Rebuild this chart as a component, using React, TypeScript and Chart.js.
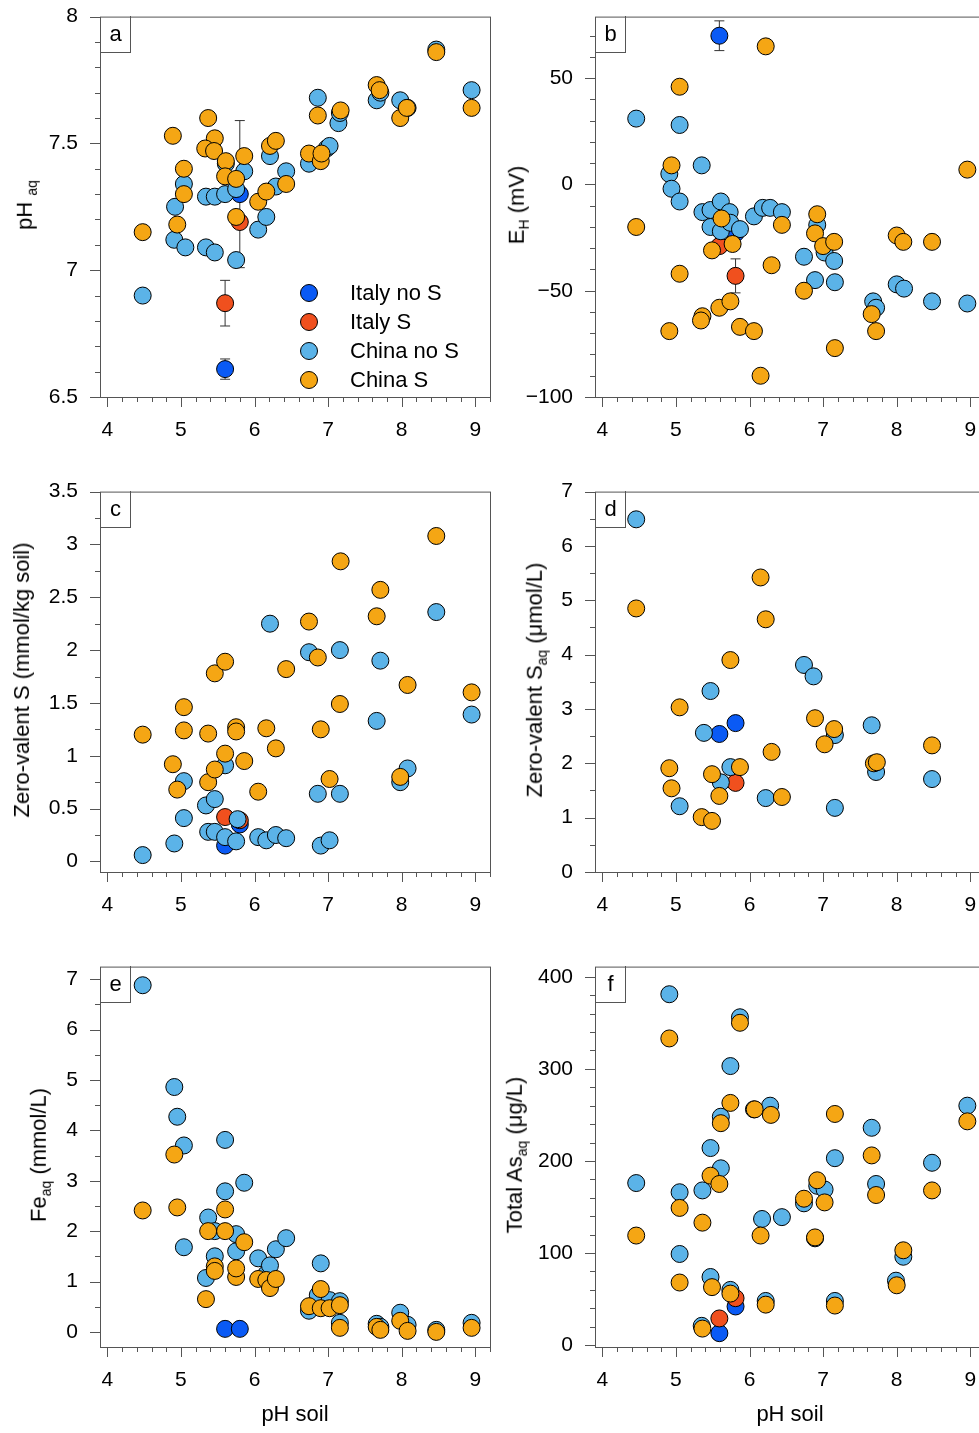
import React, { useEffect, useRef } from 'react';
import { Chart, registerables } from 'chart.js';

Chart.register(...registerables);

// ---- data (x = pH soil) ----
const aChinaSx = [4.48,4.89,4.95,5.04,5.04,5.37,5.46,5.33,5.45,5.61,5.60,5.75,5.75,5.86,6.05,6.16,6.21,6.29,6.43,6.74,6.90,6.91,6.86,7.17,7.66,7.70,7.98,8.07,8.47,8.95];
const aChinaSy = [7.15,7.53,7.18,7.40,7.30,7.60,7.52,7.48,7.47,7.43,7.37,7.36,7.21,7.45,7.27,7.31,7.49,7.51,7.34,7.46,7.43,7.46,7.61,7.63,7.73,7.71,7.60,7.64,7.86,7.64];
const aChinaNx = [4.48,4.91,4.92,5.06,5.04,5.34,5.46,5.34,5.46,5.60,5.61,5.75,5.75,5.86,6.05,6.16,6.21,6.29,6.43,6.74,6.86,6.98,7.02,7.14,7.16,7.66,7.71,7.98,8.08,8.47,8.95];
const aChinaNy = [6.90,7.12,7.25,7.09,7.34,7.29,7.29,7.09,7.07,7.30,7.42,7.32,7.04,7.39,7.16,7.21,7.45,7.33,7.39,7.42,7.68,7.48,7.49,7.58,7.62,7.67,7.70,7.67,7.64,7.87,7.71];
const aItalyNx = [5.60,5.80];
const aItalyNy = [6.61,7.30];
const aItalyNe = [0.04,0.29];
const aItalySx = [5.60,5.80];
const aItalySy = [6.87,7.19];
const aItalySe = [0.09,0];

const bChinaSx = [4.46,4.94,5.05,5.05,4.91,5.36,5.34,5.49,5.59,5.62,5.74,5.77,5.87,6.06,6.15,6.22,6.30,6.44,6.74,6.89,6.92,7.00,7.15,7.16,7.66,7.72,8.00,8.09,8.48,8.96];
const bChinaSy = [-20,9,46,-42,-69,-62,-64,-31,-58,-16,-55,-28,-67,-69,-90,65,-38,-19,-50,-23,-14,-29,-27,-77,-61,-69,-24,-27,-27,7];
const bChinaNx = [4.46,4.91,4.94,5.05,5.05,5.35,5.36,5.47,5.47,5.61,5.61,5.73,5.74,5.87,6.06,6.18,6.28,6.44,6.74,6.89,6.92,7.02,7.15,7.16,7.68,7.72,8.00,8.10,8.48,8.96];
const bChinaNy = [31,5,-2,28,-8,9,-13,-12,-20,-22,-8,-13,-18,-21,-15,-11,-11,-13,-34,-45,-19,-32,-36,-46,-55,-58,-47,-49,-55,-56];
const bItalyNx = [5.59,5.81];
const bItalyNy = [70,-23];
const bItalyNe = [7,0];
const bItalySx = [5.59,5.81];
const bItalySy = [-29,-43];
const bItalySe = [0,8];

const cChinaSx = [4.48,4.89,4.95,5.04,5.04,5.37,5.37,5.46,5.46,5.60,5.60,5.75,5.75,5.86,6.05,6.16,6.29,6.43,6.74,6.90,6.86,7.02,7.16,7.17,7.66,7.71,7.98,8.08,8.47,8.95];
const cChinaSy = [1.20,0.92,0.68,1.46,1.24,1.21,0.75,1.78,0.87,1.89,1.02,1.27,1.23,0.95,0.66,1.26,1.07,1.82,2.27,1.25,1.93,0.78,1.49,2.84,2.32,2.57,0.80,1.67,3.08,1.60];
const cChinaNx = [4.48,4.91,5.04,5.04,5.34,5.37,5.46,5.46,5.60,5.60,5.75,5.77,6.05,6.16,6.21,6.29,6.43,6.74,6.90,6.86,7.02,7.16,7.16,7.66,7.71,7.98,8.08,8.47,8.95];
const cChinaNy = [0.06,0.17,0.76,0.41,0.53,0.28,0.28,0.59,0.91,0.23,0.19,0.40,0.23,0.20,2.25,0.25,0.22,1.98,0.15,0.64,0.20,2.00,0.64,1.33,1.90,0.75,0.88,2.36,1.39];
const cItalyNx = [5.60,5.80];
const cItalyNy = [0.15,0.35];
const cItalySx = [5.60,5.80];
const cItalySy = [0.42,0.39];

const dChinaSx = [4.46,4.91,4.94,5.05,5.35,5.49,5.49,5.59,5.74,5.87,6.15,6.22,6.30,6.44,6.89,7.02,7.15,7.69,7.73,8.48];
const dChinaSy = [4.85,1.91,1.54,3.03,1.01,0.94,1.80,1.40,3.90,1.93,5.42,4.65,2.21,1.38,2.83,2.35,2.63,2.00,2.02,2.33];
const dChinaNx = [4.46,5.05,5.38,5.47,5.61,5.74,6.22,6.74,6.87,7.16,7.16,7.66,7.72,8.48];
const dChinaNy = [6.49,1.21,2.56,3.33,1.65,1.93,1.36,3.81,3.60,2.52,1.18,2.70,1.84,1.71];
const dItalyNx = [5.59,5.81];
const dItalyNy = [2.54,2.74];
const dItalySx = [5.81];
const dItalySy = [1.64];

const eChinaSx = [4.48,4.91,4.95,5.34,5.37,5.46,5.46,5.60,5.60,5.75,5.75,5.86,6.05,6.16,6.21,6.29,6.74,6.90,6.90,7.02,7.16,7.16,7.66,7.71,7.98,8.08,8.47,8.95];
const eChinaSy = [2.41,3.52,2.47,0.65,2.00,1.30,1.21,2.00,2.43,1.09,1.26,1.78,1.05,1.03,0.87,1.05,0.51,0.85,0.47,0.47,0.53,0.08,0.10,0.04,0.22,0.02,0.00,0.08];
const eChinaNx = [4.48,4.91,4.95,5.04,5.04,5.34,5.37,5.46,5.46,5.60,5.60,5.75,5.75,5.86,6.05,6.16,6.21,6.29,6.43,6.74,6.90,6.86,7.02,7.16,7.16,7.66,7.71,7.98,8.08,8.47,8.95];
const eChinaNy = [6.88,4.86,4.27,3.70,1.68,1.07,2.27,1.50,2.00,3.81,2.79,1.94,1.60,2.96,1.46,1.15,1.32,1.64,1.86,0.42,1.36,0.73,0.63,0.61,0.18,0.16,0.10,0.38,0.14,0.04,0.18];
const eItalyNx = [5.60,5.80];
const eItalyNy = [0.06,0.06];

const fChinaSx = [4.46,4.91,5.05,5.05,5.36,5.36,5.47,5.49,5.59,5.61,5.74,5.74,5.87,6.07,6.15,6.22,6.29,6.74,6.89,6.92,7.02,7.16,7.16,7.66,7.72,8.00,8.09,8.48,8.96];
const fChinaSy = [119,333,149,68,18,133,184,63,175,241,263,56,350,256,119,44,250,159,117,179,155,251,43,206,163,65,103,168,243];
const fChinaNx = [4.46,4.91,5.05,5.05,5.36,5.35,5.47,5.47,5.61,5.61,5.74,5.74,5.87,6.06,6.17,6.28,6.22,6.44,6.74,6.89,6.92,7.02,7.16,7.16,7.66,7.72,7.99,8.09,8.48,8.96];
const fChinaNy = [176,381,166,99,168,21,214,74,192,248,303,60,356,256,137,260,48,139,154,116,173,169,203,48,236,175,70,96,198,260];
const fItalyNx = [5.59,5.81];
const fItalyNy = [13,42];
const fItalySx = [5.59,5.81];
const fItalySy = [29,51];

const xTicks = [4, 5, 6, 7, 8, 9];
const xMinor = 0.2;
const aTicks = [6.5, 7, 7.5, 8];
const bTicks = [-100, -50, 0, 50];
const cTicks = [0, 0.5, 1, 1.5, 2, 2.5, 3, 3.5];
const dTicks = [0, 1, 2, 3, 4, 5, 6, 7];
const eTicks = [0, 1, 2, 3, 4, 5, 6, 7];
const fTicks = [0, 100, 200, 300, 400];

const C_CHINA_S = '#F5A614';
const C_CHINA_N = '#5BB3E8';
const C_ITALY_S = '#F0501E';
const C_ITALY_N = '#0A5AF5';
const AXIS = '#555';
const FONT = 'Liberation Sans, Arial, sans-serif';

const pts = (xs: number[], ys: number[]) => xs.map((x, i) => ({ x, y: ys[i] }));

const errPlugin = {
  id: 'errbars',
  beforeDatasetsDraw(chart: any) {
    const { ctx, scales } = chart;
    ctx.save();
    ctx.strokeStyle = '#333';
    ctx.lineWidth = 1;
    chart.data.datasets.forEach((ds: any) => {
      if (!ds.errs) return;
      ds.data.forEach((p: any, i: number) => {
        const e = ds.errs[i];
        if (!e) return;
        const px = scales.x.getPixelForValue(p.x);
        const y1 = scales.y.getPixelForValue(p.y + e);
        const y2 = scales.y.getPixelForValue(p.y - e);
        ctx.beginPath();
        ctx.moveTo(px, y1); ctx.lineTo(px, y2);
        ctx.moveTo(px - 5, y1); ctx.lineTo(px + 5, y1);
        ctx.moveTo(px - 5, y2); ctx.lineTo(px + 5, y2);
        ctx.stroke();
      });
    });
    ctx.restore();
  },
};

// frame box plus outward major/minor ticks
const boxPlugin = {
  id: 'box',
  afterDraw(chart: any) {
    const { ctx, chartArea: a, scales } = chart;
    const opts = chart.options.plugins.box || {};
    ctx.save();
    ctx.strokeStyle = AXIS;
    ctx.lineWidth = 1;
    ctx.strokeRect(a.left + 0.5, a.top + 0.5, a.right - a.left, a.bottom - a.top);
    const tick = (axis: 'x' | 'y', v: number, len: number) => {
      const sc = scales[axis];
      const p = Math.round(sc.getPixelForValue(v)) + 0.5;
      ctx.beginPath();
      if (axis === 'x') {
        if (p < a.left || p > a.right + 1) return;
        ctx.moveTo(p, a.bottom); ctx.lineTo(p, a.bottom + len);
      } else {
        if (p < a.top || p > a.bottom + 1) return;
        ctx.moveTo(a.left, p); ctx.lineTo(a.left - len, p);
      }
      ctx.stroke();
    };
    const minors = (axis: 'x' | 'y', majors: number[], step: number) => {
      const sc = scales[axis];
      const start = Math.ceil(sc.min / step - 1e-6);
      for (let k = start; k * step <= sc.max + 1e-9; k++) {
        const v = k * step;
        if (majors.some(m => Math.abs(m - v) < 1e-6)) continue;
        tick(axis, v, 5);
      }
    };
    xTicks.forEach(v => tick('x', v, 10));
    minors('x', xTicks, xMinor);
    (opts.yTicks || []).forEach((v: number) => tick('y', v, 10));
    minors('y', opts.yTicks || [], opts.yMinor);
    ctx.restore();
  },
};

interface Series { cs: any[]; cn: any[]; is?: any[]; inn?: any[]; isE?: number[]; inE?: number[] }

interface PanelProps {
  left: number; top: number; s: Series; yMin: number; yMax: number; yTicks: number[]; yMinor: number; xTitle: boolean;
}

const Panel: React.FC<PanelProps> = ({ left, top, s, yMin, yMax, yTicks, yMinor, xTitle }) => {
  const ref = useRef<HTMLCanvasElement>(null);
  useEffect(() => {
    if (!ref.current) return;
    const mk = (label: string, data: any[], color: string, errs?: number[]) => ({
      label, data, errs, backgroundColor: color, borderColor: '#000', borderWidth: 1, pointRadius: 8.5,
    });
    const datasets: any[] = [mk('China S', s.cs, C_CHINA_S), mk('China no S', s.cn, C_CHINA_N)];
    if (s.is) datasets.push(mk('Italy S', s.is, C_ITALY_S, s.isE));
    if (s.inn) datasets.push(mk('Italy no S', s.inn, C_ITALY_N, s.inE));
    const tickFont = { size: 21, family: FONT };
    const chart = new Chart(ref.current, {
      type: 'scatter',
      data: { datasets },
      plugins: [errPlugin, boxPlugin],
      options: {
        animation: false,
        responsive: false,
        layout: { padding: { top: 5, right: 10, left: 0, bottom: 0 } },
        plugins: { legend: { display: false }, tooltip: { enabled: false }, box: { yTicks, yMinor } },
        scales: {
          x: {
            type: 'linear', min: 3.9, max: 9.2,
            afterBuildTicks: (sc: any) => { sc.ticks = xTicks.map(v => ({ value: v })); },
            afterFit: (sc: any) => { sc.height = 93; },
            grid: { display: false },
            border: { display: false },
            ticks: { color: '#000', font: tickFont, padding: 13 },
            title: { display: xTitle, text: 'pH soil', color: '#000', font: { size: 22, family: FONT }, padding: { top: 0, bottom: 12 } },
          },
          y: {
            type: 'linear', min: yMin, max: yMax,
            afterBuildTicks: (sc: any) => { sc.ticks = yTicks.map(v => ({ value: v })); },
            afterFit: (sc: any) => { sc.width = 100; },
            grid: { display: false },
            border: { display: false },
            ticks: { color: '#000', font: tickFont, padding: 14, callback: (v: any) => String(v).replace('-', '\u2212') },
          },
        },
      } as any,
    });
    return () => chart.destroy();
  }, []);
  return <canvas ref={ref} width={500} height={500} style={{ position: 'absolute', left, top, width: 500, height: 500 }} />;
};

const YTitle: React.FC<{ cx: number; cy: number; children: React.ReactNode }> = ({ cx, cy, children }) => (
  <div style={{ position: 'absolute', left: cx, top: cy, transform: 'translate(-50%,-50%) rotate(-90deg)', whiteSpace: 'nowrap', fontSize: 22, fontFamily: FONT, color: '#000' }}>{children}</div>
);

const Letter: React.FC<{ x: number; y: number; t: string }> = ({ x, y, t }) => (
  <div style={{ position: 'absolute', left: x, top: y, width: 29, height: 36, borderRight: '1px solid #555', borderBottom: '1px solid #555', fontSize: 22, fontFamily: FONT, textAlign: 'center', lineHeight: '36px' }}>{t}</div>
);

const legendItems = [
  { label: 'Italy no S', color: C_ITALY_N },
  { label: 'Italy S', color: C_ITALY_S },
  { label: 'China no S', color: C_CHINA_N },
  { label: 'China S', color: C_CHINA_S },
];

const sub = (t: string) => <sub style={{ fontSize: 14 }}>{t}</sub>;

const ROW = [-10, 465, 940];

export default function App() {
  return (
    <div style={{ position: 'absolute', left: 0, top: 0, width: 979, height: 1433, overflow: 'hidden', background: '#fff' }}>
      <Panel left={0} top={ROW[0]} yMin={6.5} yMax={8} yTicks={aTicks} yMinor={0.1} xTitle={false}
        s={{ cs: pts(aChinaSx, aChinaSy), cn: pts(aChinaNx, aChinaNy), is: pts(aItalySx, aItalySy), inn: pts(aItalyNx, aItalyNy), isE: aItalySe, inE: aItalyNe }} />
      <Panel left={495} top={ROW[0]} yMin={-100} yMax={79} yTicks={bTicks} yMinor={10} xTitle={false}
        s={{ cs: pts(bChinaSx, bChinaSy), cn: pts(bChinaNx, bChinaNy), is: pts(bItalySx, bItalySy), inn: pts(bItalyNx, bItalyNy), isE: bItalySe, inE: bItalyNe }} />
      <Panel left={0} top={ROW[1]} yMin={-0.1} yMax={3.5} yTicks={cTicks} yMinor={0.25} xTitle={false}
        s={{ cs: pts(cChinaSx, cChinaSy), cn: pts(cChinaNx, cChinaNy), is: pts(cItalySx, cItalySy), inn: pts(cItalyNx, cItalyNy) }} />
      <Panel left={495} top={ROW[1]} yMin={0} yMax={7} yTicks={dTicks} yMinor={0.5} xTitle={false}
        s={{ cs: pts(dChinaSx, dChinaSy), cn: pts(dChinaNx, dChinaNy), is: pts(dItalySx, dItalySy), inn: pts(dItalyNx, dItalyNy) }} />
      <Panel left={0} top={ROW[2]} yMin={-0.3} yMax={7.25} yTicks={eTicks} yMinor={0.5} xTitle={true}
        s={{ cs: pts(eChinaSx, eChinaSy), cn: pts(eChinaNx, eChinaNy), inn: pts(eItalyNx, eItalyNy) }} />
      <Panel left={495} top={ROW[2]} yMin={-2} yMax={411} yTicks={fTicks} yMinor={20} xTitle={true}
        s={{ cs: pts(fChinaSx, fChinaSy), cn: pts(fChinaNx, fChinaNy), is: pts(fItalySx, fItalySy), inn: pts(fItalyNx, fItalyNy) }} />

      <Letter x={101} y={16} t="a" />
      <Letter x={596} y={16} t="b" />
      <Letter x={101} y={491} t="c" />
      <Letter x={596} y={491} t="d" />
      <Letter x={101} y={966} t="e" />
      <Letter x={596} y={966} t="f" />

      <YTitle cx={26} cy={205}>pH {sub('aq')}</YTitle>
      <YTitle cx={518} cy={205}>E{sub('H')} (mV)</YTitle>
      <YTitle cx={22} cy={680}>Zero-valent S (mmol/kg soil)</YTitle>
      <YTitle cx={536} cy={680}>Zero-valent S{sub('aq')} (μmol/L)</YTitle>
      <YTitle cx={40} cy={1155}>Fe{sub('aq')} (mmol/L)</YTitle>
      <YTitle cx={516} cy={1155}>Total As{sub('aq')} (μg/L)</YTitle>

      <div style={{ position: 'absolute', left: 300, top: 278, fontFamily: FONT, fontSize: 22 }}>
        {legendItems.map(it => (
          <div key={it.label} style={{ display: 'flex', alignItems: 'center', height: 29 }}>
            <span style={{ display: 'inline-block', width: 16, height: 16, borderRadius: '50%', background: it.color, border: '1px solid #000', marginRight: 32 }} />
            {it.label}
          </div>
        ))}
      </div>
    </div>
  );
}
